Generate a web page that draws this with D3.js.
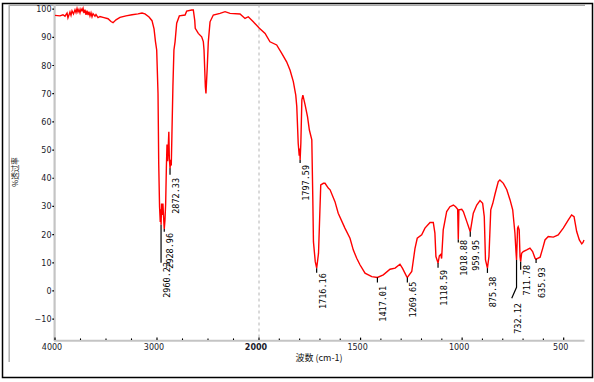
<!DOCTYPE html>
<html><head><meta charset="utf-8">
<script src="https://cdn.jsdelivr.net/npm/d3@7"></script>
<style>html,body{margin:0;padding:0;background:#fff;}svg{display:block}</style>
</head><body><svg id="c" width="594" height="382"></svg>
<script>
// Spectrum: [wavenumber cm-1, %T]
const spectrum = [[4000,97.8],[3951,97.6],[3922,98.0],[3902,97.5],[3882,98.6],[3873,96.9],[3853,99.0],[3843,97.8],[3833,99.4],[3819,98.3],[3804,99.8],[3794,98.8],[3784,100.2],[3775,99.0],[3765,99.9],[3755,98.7],[3745,100.1],[3735,99.4],[3725,100.3],[3716,98.6],[3706,99.8],[3696,98.0],[3686,99.5],[3676,97.9],[3667,99.1],[3657,97.6],[3647,98.7],[3637,97.3],[3627,98.4],[3608,97.5],[3598,98.1],[3578,97.0],[3559,97.4],[3520,97.0],[3480,96.6],[3451,95.6],[3431,95.2],[3402,96.2],[3363,97.1],[3304,97.6],[3245,98.0],[3186,98.3],[3147,98.6],[3118,98.3],[3078,97.2],[3049,95.9],[3029,93.0],[3015,88.5],[3003,85.5],[2990,70.0],[2983,45.0],[2975,30.0],[2968,24.5],[2963,29.0],[2960,23.5],[2955,31.0],[2948,27.0],[2942,31.0],[2935,26.0],[2929,22.0],[2922,25.0],[2915,31.0],[2908,44.0],[2902,52.0],[2896,46.0],[2890,51.0],[2884,56.5],[2879,47.0],[2872,43.5],[2866,46.5],[2860,44.5],[2854,55.0],[2844,72.5],[2834,85.5],[2823,88.4],[2807,95.0],[2781,97.6],[2725,97.9],[2709,99.3],[2660,99.7],[2644,99.7],[2630,96.0],[2625,93.2],[2595,91.4],[2562,90.2],[2546,88.5],[2539,85.5],[2526,72.5],[2520,70.1],[2507,79.6],[2497,88.4],[2480,95.5],[2448,97.9],[2382,98.5],[2333,99.1],[2284,98.5],[2186,98.3],[2137,96.7],[2105,97.3],[2056,95.5],[1998,93.2],[1970,91.4],[1946,88.4],[1913,87.3],[1888,84.3],[1864,81.3],[1847,78.3],[1831,74.3],[1819,69.5],[1814,65.4],[1807,52.4],[1802,48.0],[1799,50.5],[1797.6,46.5],[1794,52.4],[1789,67.8],[1784,69.5],[1773,66.0],[1761,61.8],[1752,57.1],[1740,53.6],[1735,32.3],[1732,17.5],[1723,10.4],[1716,8.1],[1707,13.4],[1699,31.1],[1696,37.6],[1683,38.2],[1675,38.2],[1659,36.5],[1650,35.9],[1626,31.7],[1610,27.6],[1577,22.3],[1552,18.7],[1536,14.6],[1519,11.6],[1503,9.3],[1478,6.3],[1445,5.1],[1417,4.8],[1388,5.7],[1355,7.7],[1330,8.1],[1306,9.5],[1294,8.1],[1273,5.1],[1269.6,4.8],[1248,6.9],[1232,15.1],[1221,18.7],[1199,19.9],[1183,22.3],[1158,24.3],[1142,24.3],[1134,20.5],[1129,12.2],[1118.6,9.9],[1112,12.5],[1105,13.0],[1101,11.5],[1093,21.7],[1076,28.2],[1060,29.9],[1043,30.5],[1032,29.9],[1022,29.0],[1018.9,18.3],[1016,28.8],[1002,29.0],[994,28.2],[977,24.6],[960,21.0],[945,27.6],[928,30.5],[912,32.1],[899,31.1],[891,26.4],[885,11.0],[875.4,8.1],[868,12.2],[859,28.8],[849,31.1],[838,34.4],[822,38.8],[814,39.4],[797,38.2],[780,35.9],[764,32.3],[751,28.8],[740,20.5],[735,14.0],[732.1,11.0],[727,22.3],[724,22.8],[719,21.7],[715,12.2],[711.8,10.4],[707,13.4],[699,14.0],[682,14.6],[666,15.2],[653,14.0],[641,11.6],[635.9,11.3],[616,12.0],[603,15.2],[592,18.1],[576,19.3],[551,19.1],[527,19.9],[502,22.3],[477,25.2],[461,27.0],[449,26.4],[436,21.1],[423,18.1],[411,16.7],[405,17.2],[400,18.1]];

const peakWavenumbers = [2960.23,2928.96,2872.33,1797.59,1716.16,1417.01,1269.65,1118.59,1018.88,959.95,875.38,732.12,711.78,635.93];
const peakLabels = ["2960.23","2928.96","2872.33","1797.59","1716.16","1417.01","1269.65","1118.59","1018.88","959.95","875.38","732.12","711.78","635.93"];
const peakMinima = [23.5,22.0,43.5,46.5,8.1,4.8,4.8,9.9,18.3,21.0,8.1,11.0,10.4,11.3];

// layout of annotation leaders (in %T units) and horizontal label shifts (px)
const leaderEndT = [10.0,21.0,41.2,45.4,6.5,3.0,3.0,8.2,17.2,19.2,6.4,1.3,7.5,9.9];
const labelTopT  = [10.3,20.6,40.1,44.7,6.3,1.8,3.3,7.5,18.1,18.1,5.1,-4.3,9.3,8.4];
const labelShift = [0,0,0,0,0,0,0,0,0,0,0,-4.8,0,0];

const xMajorTicks = [4000,3000,2000,1500,1000,500];
const xMinorTicks = [3750,3500,3250,2750,2500,2250,1900,1800,1700,1600,1400,1300,1200,1100,900,800,700,600];
const yTicks = [-10,0,10,20,30,40,50,60,70,80,90,100];

const svg = d3.select("#c");
const x = d3.scaleLinear().domain([4000,2000,400]).range([55,259,584]);
const y = d3.scaleLinear().domain([-17.4,102]).range([340,3.5]);

// frame
svg.append("rect").attr("x",2.5).attr("y",3.5).attr("width",590).attr("height",374)
  .attr("fill","#fff").attr("stroke","#000").attr("stroke-width",1.5);
svg.append("line").attr("x1",9).attr("x2",585).attr("y1",5.2).attr("y2",5.2).attr("stroke","#a8a8a8").attr("stroke-width",1.5);
svg.append("line").attr("x1",9.2).attr("x2",9.2).attr("y1",5).attr("y2",362).attr("stroke","#b0b0b0").attr("stroke-width",1.5);

// dashed 2000 line
svg.append("line").attr("x1",x(2000)).attr("x2",x(2000)).attr("y1",4.5).attr("y2",340)
  .attr("stroke","#b4b4b4").attr("stroke-width",1).attr("stroke-dasharray","3,3");

// axes lines
svg.append("line").attr("x1",54.6).attr("x2",54.6).attr("y1",4.5).attr("y2",341).attr("stroke","#c4c4c4").attr("stroke-width",2.2);
svg.append("line").attr("x1",54).attr("x2",584.5).attr("y1",340.8).attr("y2",340.8).attr("stroke","#c4c4c4").attr("stroke-width",2);

const tickFont = "DejaVu Sans, Verdana, sans-serif";
// y ticks
const yg = svg.append("g");
yTicks.forEach(v=>{
  yg.append("line").attr("x1",52.3).attr("x2",54).attr("y1",y(v)).attr("y2",y(v)).attr("stroke","#000").attr("stroke-width",1.2);
  yg.append("text").attr("x",51.5).attr("y",y(v)+3).attr("text-anchor","end")
    .attr("font-family",tickFont).attr("font-size",8).attr("fill","#1a1a2a")
    .text(d3.format("")(v));
});
// x ticks
const xg = svg.append("g");
xMajorTicks.forEach(v=>{
  xg.append("line").attr("x1",x(v)).attr("x2",x(v)).attr("y1",337.6).attr("y2",340).attr("stroke","#000").attr("stroke-width",1.2);
  xg.append("text").attr("x",x(v)-3).attr("y",350).attr("text-anchor","middle")
    .attr("font-family",tickFont).attr("font-size",8).attr("fill","#1a1a2a")
    .attr("font-weight", v===2000 ? "bold" : "normal")
    .text(v);
});
xMinorTicks.forEach(v=>{
  xg.append("line").attr("x1",x(v)).attr("x2",x(v)).attr("y1",338.4).attr("y2",340).attr("stroke","#000").attr("stroke-width",1.1);
});

// axis titles
svg.append("text").attr("x",319).attr("y",361).attr("text-anchor","middle")
  .attr("font-family","Noto Sans CJK SC, sans-serif").attr("font-size",9).attr("fill","#111")
  .text("波数 (cm-1)");
svg.append("text").attr("transform","translate(17.5,172) rotate(-90)").attr("text-anchor","middle")
  .attr("font-family","Noto Sans CJK SC, sans-serif").attr("font-size",7.5).attr("fill","#111")
  .text("%透过率");

// spectrum
const line = d3.line().x(d=>x(d[0])).y(d=>y(d[1]));
svg.append("path").datum(spectrum).attr("d",line).attr("fill","none")
  .attr("stroke","#ff0000").attr("stroke-width",1.4).attr("stroke-linejoin","miter");

// peak annotations
const ag = svg.append("g");
peakWavenumbers.forEach((wn,i)=>{
  const px = x(wn);
  const pts = [[px, y(peakMinima[i])],[px, y(leaderEndT[i])]];
  if (labelShift[i] !== 0) pts.push([px+labelShift[i], y(leaderEndT[i])+11]);
  ag.append("path").attr("d", d3.line()(pts)).attr("fill","none").attr("stroke","#000").attr("stroke-width",1.2);
  const bx = px + 9 + labelShift[i];
  ag.append("text").attr("transform",`translate(${bx},${y(labelTopT[i])}) rotate(-90)`)
    .attr("text-anchor","end").attr("font-family","DejaVu Sans Mono, monospace").attr("font-size",8.5)
    .attr("fill","#000").text(peakLabels[i]);
});
</script></body></html>
